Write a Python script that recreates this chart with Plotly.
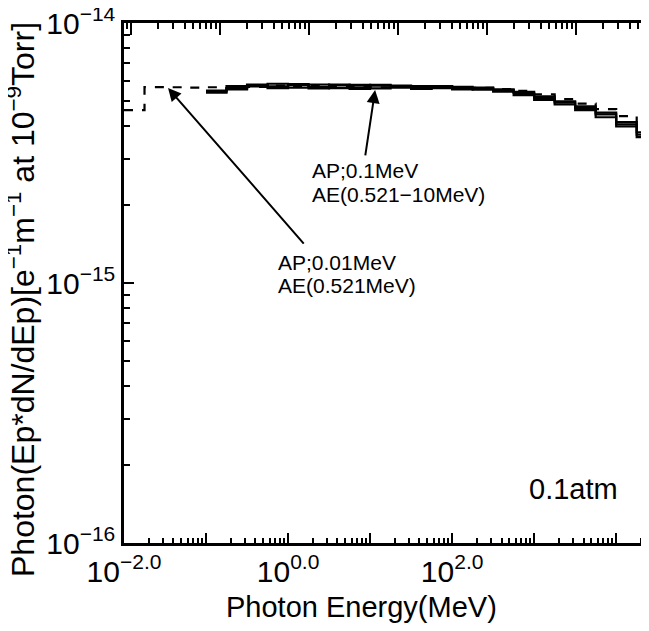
import plotly.graph_objects as go

# ---------------- data ----------------
# log10(photon energy / MeV) bin edges
edges_solid = [-1.0, -0.75, -0.5, -0.25, 0.0, 0.25, 0.5, 0.75, 1.0, 1.25, 1.5, 1.75,
               2.0, 2.25, 2.5, 2.75, 3.0, 3.25, 3.5, 3.75, 4.0, 4.25, 4.5]
edges_dash = [-2.0, -1.75, -1.5, -1.25, -1.0, -0.75, -0.5, -0.25, 0.0, 0.25, 0.5, 0.75,
              1.0, 1.25, 1.5, 1.75, 2.0, 2.25, 2.5, 2.75, 3.0, 3.25, 3.5, 3.75, 4.0, 4.25, 4.5]

# photon spectra, units of 1e-15  [e^-1 m^-1 at 1e-9 Torr]
ae_0521 = [5.50, 5.62, 5.80, 5.70, 5.78, 5.68, 5.76, 5.66, 5.74, 5.64, 5.72, 5.62,
           5.68, 5.60, 5.52, 5.38, 5.15, 4.95, 4.72, 4.45, 4.08, 3.72]
ae_1 = [5.40, 5.72, 5.70, 5.84, 5.64, 5.80, 5.62, 5.78, 5.60, 5.74, 5.58, 5.70,
        5.56, 5.64, 5.44, 5.28, 5.06, 4.86, 4.62, 4.34, 4.00, 3.64]
ae_10 = [5.46, 5.56, 5.76, 5.62, 5.82, 5.60, 5.80, 5.58, 5.78, 5.68, 5.62, 5.72,
         5.60, 5.54, 5.56, 5.44, 5.22, 5.00, 4.78, 4.52, 4.16, 3.80]
ap001 = [4.62, 5.67, 5.66, 5.64, 5.66, 5.60, 5.68, 5.74, 5.70, 5.72, 5.68, 5.70, 5.66,
         5.69, 5.64, 5.67, 5.62, 5.63, 5.57, 5.48, 5.32, 5.10, 4.90, 4.66, 4.38, 4.02]

x_ticks = [1e-2, 1e-1, 1e0, 1e1, 1e2, 1e3, 1e4]
x_ticktext = ["10<sup>\u22122.0</sup>", "", "10<sup>0.0</sup>", "", "10<sup>2.0</sup>", "", ""]
y_ticks = [1e-16, 1e-15, 1e-14]
y_ticktext = ["10<sup>\u221216</sup>", "10<sup>\u221215</sup>", "10<sup>\u221214</sup>"]

FONT = "Liberation Sans, Arial, Helvetica, sans-serif"


def step(edges, vals):
    xs = [10 ** e for e in edges]
    ys = [v * 1e-15 for v in vals] + [vals[-1] * 1e-15]
    return xs, ys


fig = go.Figure()
for vals in [ae_0521, ae_1, ae_10]:
    xs, ys = step(edges_solid, vals)
    fig.add_trace(go.Scatter(x=xs, y=ys, mode="lines", line_shape="hv",
                             line=dict(color="black", width=2.2),
                             showlegend=False))
xs, ys = step(edges_dash, ap001)
fig.add_trace(go.Scatter(x=xs, y=ys, mode="lines", line_shape="hv",
                         line=dict(color="black", width=2.2, dash="dash"),
                         showlegend=False))
# top decorative axis
fig.add_trace(go.Scatter(x=[], y=[], xaxis="x2", yaxis="y", showlegend=False))

# page body has an 8px margin: the figure is drawn from (8, 8) of the window
OFF = 8
W, H = 649 - OFF, 631 - OFF
L, R, T, B = 124 - OFF, 649 - OFF, 23 - OFF, 543 - OFF


def px(x):
    return (x - OFF - L) / (R - L)


def py(y):
    return (B - (y - OFF)) / (B - T)


fig.update_layout(
    width=W, height=H,
    margin=dict(l=L, r=W - R, t=T, b=H - B, pad=0, autoexpand=False),
    plot_bgcolor="white", paper_bgcolor="white",
    font=dict(family=FONT, color="black", size=20),
    xaxis=dict(type="log", range=[-2, 4.4], showline=True, linecolor="black", linewidth=2.5,
               mirror=False, showgrid=False, zeroline=False, automargin=False,
               ticklabeloverflow="allow",
               tickmode="array", tickvals=x_ticks, ticktext=x_ticktext,
               ticks="inside", ticklen=10, tickwidth=2, tickcolor="black",
               tickfont=dict(size=30, family=FONT),
               minor=dict(ticks="inside", ticklen=5, tickwidth=1.5, tickcolor="black",
                          dtick="D1", showgrid=False)),
    xaxis2=dict(type="log", range=[-2.079, 3.82], overlaying="x", side="top", anchor="y",
                showline=True, linecolor="black", linewidth=2.5, showgrid=False,
                zeroline=False, showticklabels=False, automargin=False,
                tickmode="array", tickvals=x_ticks,
                ticks="inside", ticklen=12, tickwidth=2, tickcolor="black",
                minor=dict(ticks="inside", ticklen=6, tickwidth=1.5, tickcolor="black",
                           dtick="D1", showgrid=False)),
    yaxis=dict(type="log", range=[-16, -14], showline=True, linecolor="black", linewidth=2.5,
               mirror=False, showgrid=False, zeroline=False, automargin=False,
               ticklabeloverflow="allow",
               tickmode="array", tickvals=y_ticks, ticktext=y_ticktext,
               ticks="inside", ticklen=10, tickwidth=2, tickcolor="black",
               tickfont=dict(size=30, family=FONT),
               minor=dict(ticks="inside", ticklen=6, tickwidth=1.5, tickcolor="black",
                          dtick="D1", showgrid=False)),
)

ann = []
# axis titles
ann.append(dict(text="Photon Energy(MeV)", xref="paper", yref="paper",
                x=px(361), y=py(607), xanchor="center", yanchor="middle",
                showarrow=False, font=dict(size=29, family=FONT)))
ann.append(dict(text="Photon(Ep*dN/dEp)[e<sup>\u22121</sup>m<sup>\u22121</sup> at 10<sup>\u22129</sup>Torr]",
                xref="paper", yref="paper", x=px(21), y=py(300), textangle=-90,
                xanchor="center", yanchor="middle", showarrow=False,
                font=dict(size=32, family=FONT)))
# labels
for txt, x, y in [("AP;0.1MeV", 310, 170.5), ("AE(0.521\u221210MeV)", 310, 194.5),
                  ("AP;0.01MeV", 276, 262.5), ("AE(0.521MeV)", 276, 285.5)]:
    ann.append(dict(text=txt, xref="paper", yref="paper", x=px(x), y=py(y),
                    xanchor="left", yanchor="middle", showarrow=False,
                    font=dict(size=21, family=FONT)))
ann.append(dict(text="0.1atm", xref="paper", yref="paper", x=px(620), y=py(489),
                xanchor="right", yanchor="middle", showarrow=False,
                font=dict(size=29, family=FONT)))
# arrows (tip -> data point, tail near labels), log10 coordinates
for (tx, ty, ax, ay) in [(1.061, -14.258, 0.939, -14.515),
                         (-1.463, -14.25, 0.207, -14.854)]:
    ann.append(dict(text="", x=tx, y=ty, xref="x", yref="y", ax=ax, ay=ay,
                    axref="x", ayref="y", showarrow=True, arrowhead=2, arrowsize=1.3,
                    arrowwidth=2, arrowcolor="black", standoff=0, startstandoff=0))
fig.update_layout(annotations=ann)

fig.write_html("out.html")
